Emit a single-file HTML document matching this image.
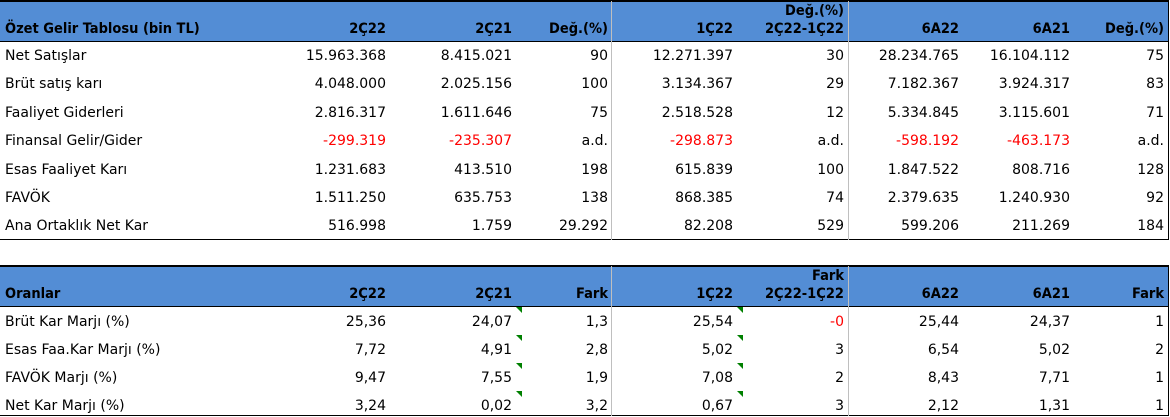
<!DOCTYPE html>
<html><head><meta charset="utf-8"><style>
body{margin:0;width:1170px;height:417px;background:#fff;position:relative;overflow:hidden;font-family:"DejaVu Sans","Liberation Sans",sans-serif;font-size:14px;color:#000}
.a{position:absolute;white-space:nowrap;line-height:17px}
.hdr{position:absolute;left:0;width:1168px;background:#538dd5}
.b{font-weight:bold;font-family:"DejaVu Sans Condensed","DejaVu Sans",sans-serif;font-size:14.5px}
.red{color:#f00}
.vl{position:absolute;width:1px;background:#bfbfbf}
.hl{position:absolute;left:0;width:1169px;background:#000}
.tri{position:absolute;width:0;height:0;border-top:6px solid #008000;border-left:6px solid transparent}
</style></head><body>
<div class="hdr" style="top:1px;height:40px"></div>
<div class="hdr" style="top:266px;height:40px"></div>
<div class="hl" style="top:0;height:2px"></div>
<div class="hl" style="top:41px;height:1px"></div>
<div class="hl" style="top:239px;height:1px"></div>
<div class="hl" style="top:265px;height:2px"></div>
<div class="hl" style="top:306px;height:1px"></div>
<div class="hl" style="top:415px;height:1px"></div>
<div class="vl" style="left:611px;top:1px;height:239px"></div>
<div class="vl" style="left:848px;top:1px;height:239px"></div>
<div class="vl" style="left:611px;top:266px;height:150px"></div>
<div class="vl" style="left:848px;top:266px;height:150px"></div>
<div class="vl" style="left:1168px;top:0;height:240px;background:#000"></div>
<div class="vl" style="left:1168px;top:265px;height:151px;background:#000"></div>
<script>
const colRight=[0,386,512,608,733,844,959,1070,1164];
const incomeHeaders=["Özet Gelir Tablosu (bin TL)","2Ç22","2Ç21","Değ.(%)","1Ç22","Değ.(%)|2Ç22-1Ç22","6A22","6A21","Değ.(%)"];
const incomeLabels=["Net Satışlar","Brüt satış karı","Faaliyet Giderleri","Finansal Gelir/Gider","Esas Faaliyet Karı","FAVÖK","Ana Ortaklık Net Kar"];
const incomeValues=[
["15.963.368","8.415.021","90","12.271.397","30","28.234.765","16.104.112","75"],
["4.048.000","2.025.156","100","3.134.367","29","7.182.367","3.924.317","83"],
["2.816.317","1.611.646","75","2.518.528","12","5.334.845","3.115.601","71"],
["-299.319","-235.307","a.d.","-298.873","a.d.","-598.192","-463.173","a.d."],
["1.231.683","413.510","198","615.839","100","1.847.522","808.716","128"],
["1.511.250","635.753","138","868.385","74","2.379.635","1.240.930","92"],
["516.998","1.759","29.292","82.208","529","599.206","211.269","184"]];
const ratioHeaders=["Oranlar","2Ç22","2Ç21","Fark","1Ç22","Fark|2Ç22-1Ç22","6A22","6A21","Fark"];
const ratioLabels=["Brüt Kar Marjı (%)","Esas Faa.Kar Marjı (%)","FAVÖK Marjı (%)","Net Kar Marjı (%)"];
const ratioValues=[
["25,36","24,07","1,3","25,54","-0","25,44","24,37","1"],
["7,72","4,91","2,8","5,02","3","6,54","5,02","2"],
["9,47","7,55","1,9","7,08","2","8,43","7,71","1"],
["3,24","0,02","3,2","0,67","3","2,12","1,31","1"]];
function txt(t,x,y,cls,right,name){
 const d=document.createElement('div');
 d.className='a '+cls;
 
 
 d.textContent=t;
 d.style.top=y+'px';
 if(right){d.style.right=(1170-x)+'px';d.style.textAlign='right';}else d.style.left=x+'px';
 document.body.appendChild(d);
}
function header(hs,top){
 hs.forEach((h,i)=>{
  const parts=h.split('|');
  if(i===0){txt(parts[0],5,top+18,'b',false,'header-title');return;}
  if(parts.length===2){
   txt(parts[0],colRight[i],top,'b',true,'header-cell');
   txt(parts[1],colRight[i],top+18,'b',true,'header-cell');
  } else txt(parts[0],colRight[i],top+18,'b',true,'header-cell');
 });
}
function body(labels,vals,top,rh,tri){
 labels.forEach((l,r)=>{
  const y=top+r*rh;
  txt(l,5,y,'',false,'row-label');
  vals[r].forEach((v,c)=>{
   const red=v.charAt(0)==='-';
   txt(v,colRight[c+1],y,red?'red':'',true,'value-cell');
   if(tri&&(c===1||c===3)){
    const t=document.createElement('div');
    t.className='tri';
    
    
    t.style.left=(colRight[c+1]+4)+'px';
    t.style.top=(y-7)+'px';
    document.body.appendChild(t);
   }
  });
 });
}
header(incomeHeaders,3);
body(incomeLabels,incomeValues,48,28.4,false);
header(ratioHeaders,268);
body(ratioLabels,ratioValues,314,28,true);
</script>
</body></html>
